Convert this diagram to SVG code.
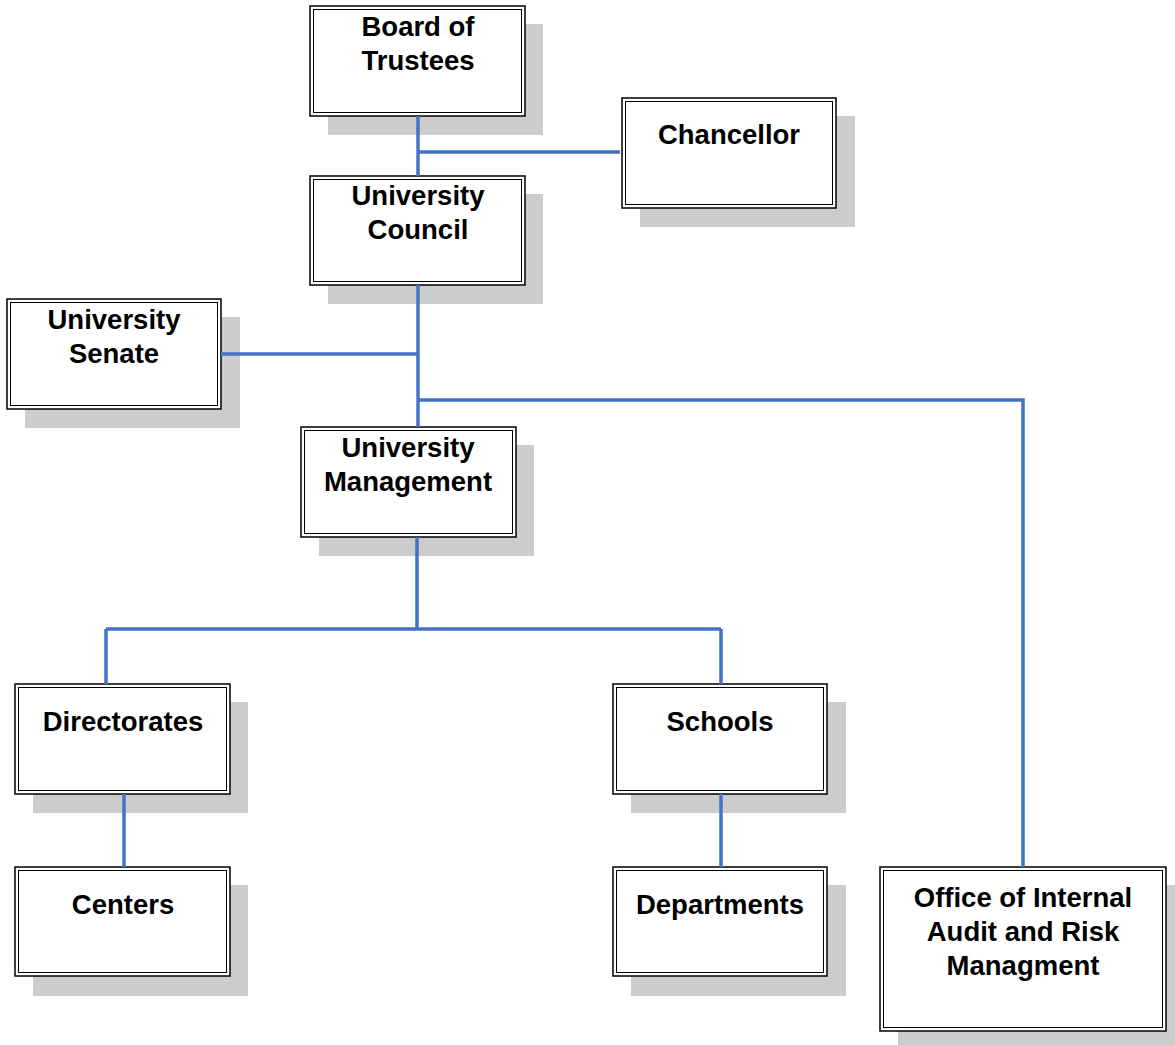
<svg xmlns="http://www.w3.org/2000/svg" width="1175" height="1045" viewBox="0 0 1175 1045">
<style>
.sh{fill:#cccccc}
.bx{fill:#ffffff;stroke:#000;stroke-width:1.5}
.in{fill:none;stroke:#000;stroke-width:1}
.t{font-family:"Liberation Sans",Arial,sans-serif;font-weight:bold;font-size:27.5px;text-anchor:middle;fill:#000}
.c{fill:none;stroke:#4472C4;stroke-width:3.5}
</style>
<rect width="1175" height="1045" fill="#fff"/>
<g id="board">
<rect class="sh" x="328" y="24" width="215" height="111"/>
<rect class="bx" x="310" y="6" width="215" height="110"/>
<rect class="in" x="313.5" y="9.5" width="208" height="103"/>
<text class="t" x="418" y="36">Board of</text>
<text class="t" x="418" y="70">Trustees</text>
</g>
<g id="chancellor">
<rect class="sh" x="640" y="116" width="215" height="111"/>
<rect class="bx" x="622" y="98" width="214" height="110"/>
<rect class="in" x="625.5" y="101.5" width="207" height="103"/>
<text class="t" x="729" y="144">Chancellor</text>
</g>
<g id="council">
<rect class="sh" x="328" y="194" width="215" height="110"/>
<rect class="bx" x="310" y="176" width="215" height="109"/>
<rect class="in" x="313.5" y="179.5" width="208" height="102"/>
<text class="t" x="418" y="205">University</text>
<text class="t" x="418" y="239">Council</text>
</g>
<g id="senate">
<rect class="sh" x="25" y="317" width="215" height="111"/>
<rect class="bx" x="7" y="299" width="214" height="110"/>
<rect class="in" x="10.5" y="302.5" width="207" height="103"/>
<text class="t" x="114" y="329">University</text>
<text class="t" x="114" y="363">Senate</text>
</g>
<g id="management">
<rect class="sh" x="319" y="445" width="215" height="111"/>
<rect class="bx" x="301" y="427" width="215" height="110"/>
<rect class="in" x="304.5" y="430.5" width="208" height="103"/>
<text class="t" x="408" y="457">University</text>
<text class="t" x="408" y="491">Management</text>
</g>
<g id="directorates">
<rect class="sh" x="33" y="702" width="215" height="111"/>
<rect class="bx" x="15" y="684" width="215" height="110"/>
<rect class="in" x="18.5" y="687.5" width="208" height="103"/>
<text class="t" x="123" y="731">Directorates</text>
</g>
<g id="schools">
<rect class="sh" x="631" y="702" width="215" height="111"/>
<rect class="bx" x="613" y="684" width="214" height="110"/>
<rect class="in" x="616.5" y="687.5" width="207" height="103"/>
<text class="t" x="720" y="731">Schools</text>
</g>
<g id="centers">
<rect class="sh" x="33" y="885" width="215" height="111"/>
<rect class="bx" x="15" y="867" width="215" height="109"/>
<rect class="in" x="18.5" y="870.5" width="208" height="102"/>
<text class="t" x="123" y="914">Centers</text>
</g>
<g id="departments">
<rect class="sh" x="631" y="885" width="215" height="111"/>
<rect class="bx" x="613" y="867" width="214" height="109"/>
<rect class="in" x="616.5" y="870.5" width="207" height="102"/>
<text class="t" x="720" y="914">Departments</text>
</g>
<g id="office">
<rect class="sh" x="898" y="885" width="277" height="160"/>
<rect class="bx" x="880" y="867" width="286" height="164"/>
<rect class="in" x="883.5" y="870.5" width="279" height="157"/>
<text class="t" x="1023" y="907">Office of Internal</text>
<text class="t" x="1023" y="941">Audit and Risk</text>
<text class="t" x="1023" y="975">Managment</text>
</g>
<g id="connectors">
<path class="c" d="M418,116V176M418,152H620"/>
<path class="c" d="M418,285V427M221,354H418M418,400H1023V867"/>
<path class="c" d="M417,537V629M106,629H721M106,629V684M721,629V684"/>
<path class="c" d="M124,794V867M721,794V867"/>
</g>
</svg>
